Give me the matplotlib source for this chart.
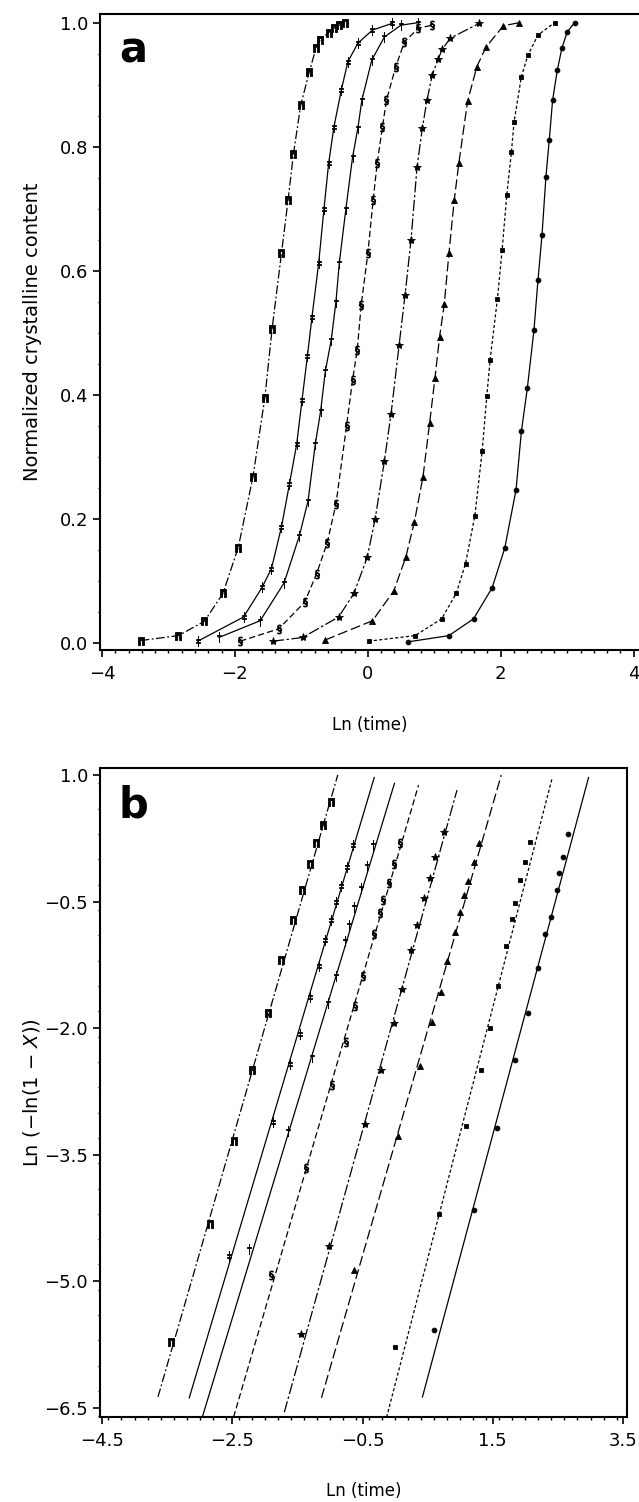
import numpy as np
import matplotlib
matplotlib.use('Agg')
import matplotlib.pyplot as plt
from matplotlib.ticker import MultipleLocator, FixedLocator

plt.rcParams['font.family'] = ['DejaVu Sans']
plt.rcParams['mathtext.fontset'] = 'dejavusans'

# Panel a: normalized crystalline content vs Ln(time), one list pair per series
a_x1 = [-3.42, -2.85, -2.46, -2.18, -1.95, -1.73, -1.55, -1.44, -1.30, -1.20,
        -1.12, -1.01, -0.88, -0.78, -0.72, -0.59, -0.51, -0.43, -0.35]
a_y1 = [0.004, 0.012, 0.035, 0.080, 0.154, 0.267, 0.395, 0.507, 0.628, 0.714,
        0.788, 0.867, 0.921, 0.959, 0.972, 0.984, 0.991, 0.996, 0.999]
a_x2 = [-2.56, -1.87, -1.59, -1.45, -1.30, -1.18, -1.07, -0.99, -0.91, -0.84,
        -0.74, -0.66, -0.59, -0.51, -0.40, -0.30, -0.15, 0.07, 0.37]
a_y2 = [0.003, 0.042, 0.090, 0.120, 0.187, 0.256, 0.321, 0.392, 0.462, 0.526,
        0.612, 0.700, 0.773, 0.832, 0.891, 0.937, 0.967, 0.988, 0.999]
a_x3 = [-2.24, -1.62, -1.26, -1.03, -0.90, -0.79, -0.71, -0.64, -0.55, -0.48,
        -0.43, -0.33, -0.23, -0.15, -0.09, 0.06, 0.25, 0.50, 0.76]
a_y3 = [0.009, 0.036, 0.097, 0.173, 0.229, 0.321, 0.374, 0.438, 0.489, 0.550,
        0.612, 0.700, 0.783, 0.830, 0.875, 0.940, 0.977, 0.996, 1.0]
a_x4 = [-1.92, -1.34, -0.95, -0.77, -0.61, -0.48, -0.32, -0.23, -0.16, -0.10,
        0.00, 0.08, 0.14, 0.22, 0.28, 0.42, 0.55, 0.76, 0.97]
a_y4 = [0.003, 0.023, 0.066, 0.112, 0.162, 0.224, 0.350, 0.424, 0.472, 0.545,
        0.628, 0.714, 0.773, 0.832, 0.875, 0.929, 0.969, 0.991, 0.996]
a_x5 = [-1.43, -0.98, -0.44, -0.21, -0.01, 0.11, 0.25, 0.35, 0.47, 0.56,
        0.65, 0.74, 0.82, 0.89, 0.97, 1.06, 1.12, 1.24, 1.68]
a_y5 = [0.003, 0.009, 0.042, 0.080, 0.138, 0.200, 0.294, 0.370, 0.480, 0.561,
        0.650, 0.767, 0.830, 0.875, 0.916, 0.942, 0.957, 0.975, 0.999]
a_x6 = [-0.64, 0.07, 0.39, 0.57, 0.70, 0.83, 0.93, 1.01, 1.08, 1.15,
        1.22, 1.30, 1.37, 1.50, 1.64, 1.78, 2.04, 2.28]
a_y6 = [0.005, 0.036, 0.084, 0.138, 0.195, 0.268, 0.355, 0.427, 0.494, 0.546,
        0.628, 0.714, 0.774, 0.873, 0.929, 0.961, 0.995, 1.0]
a_x7 = [0.01, 0.71, 1.11, 1.33, 1.47, 1.61, 1.72, 1.79, 1.84, 1.95,
        2.02, 2.09, 2.16, 2.20, 2.31, 2.41, 2.56, 2.81]
a_y7 = [0.003, 0.012, 0.039, 0.080, 0.128, 0.205, 0.309, 0.398, 0.457, 0.555,
        0.633, 0.722, 0.791, 0.840, 0.913, 0.948, 0.980, 1.0]
a_x8 = [0.61, 1.22, 1.59, 1.87, 2.06, 2.23, 2.31, 2.40, 2.50, 2.56,
        2.62, 2.68, 2.73, 2.78, 2.85, 2.92, 3.00, 3.11]
a_y8 = [0.002, 0.012, 0.039, 0.089, 0.153, 0.247, 0.341, 0.411, 0.505, 0.585,
        0.657, 0.752, 0.811, 0.875, 0.923, 0.959, 0.985, 1.0]

# Panel b: Ln(-ln(1-X)) vs Ln(time) data points
b_x1 = [-0.99, -1.11, -1.21, -1.31, -1.43, -1.57, -1.75, -1.95, -2.19, -2.48, -2.84, -3.44]
b_y1 = [0.68, 0.41, 0.19, -0.05, -0.36, -0.72, -1.19, -1.82, -2.49, -3.34, -4.32, -5.72]
b_x2 = [-0.65, -0.74, -0.83, -0.91, -0.98, -1.07, -1.17, -1.30, -1.46, -1.61, -1.87, -2.55]
b_y2 = [0.17, -0.09, -0.32, -0.50, -0.72, -0.95, -1.26, -1.63, -2.07, -2.43, -3.11, -4.70]
b_x3 = [-0.34, -0.43, -0.52, -0.63, -0.71, -0.77, -0.91, -1.03, -1.27, -1.64, -2.24]
b_y3 = [0.17, -0.08, -0.34, -0.56, -0.78, -0.97, -1.38, -1.70, -2.34, -3.22, -4.62]
b_x4 = [0.08, -0.01, -0.09, -0.18, -0.23, -0.32, -0.49, -0.61, -0.75, -0.97, -1.36, -1.90]
b_y4 = [0.19, -0.05, -0.28, -0.48, -0.63, -0.88, -1.38, -1.74, -2.16, -2.67, -3.66, -4.92]
b_x5 = [0.75, 0.61, 0.53, 0.44, 0.33, 0.25, 0.10, -0.02, -0.21, -0.46, -1.01, -1.45]
b_y5 = [0.33, 0.03, -0.22, -0.46, -0.78, -1.07, -1.53, -1.94, -2.49, -3.14, -4.58, -5.62]
b_x6 = [1.29, 1.21, 1.12, 1.06, 0.99, 0.92, 0.80, 0.70, 0.56, 0.38, 0.05, -0.63]
b_y6 = [0.19, -0.03, -0.26, -0.42, -0.62, -0.86, -1.20, -1.57, -1.93, -2.45, -3.28, -4.86]
b_x7 = [2.07, 2.00, 1.91, 1.84, 1.79, 1.71, 1.58, 1.45, 1.32, 1.09, 0.68, 0.00]
b_y7 = [0.21, -0.03, -0.24, -0.52, -0.71, -1.03, -1.50, -2.00, -2.49, -3.16, -4.20, -5.78]
b_x8 = [2.66, 2.58, 2.52, 2.48, 2.39, 2.30, 2.19, 2.04, 1.84, 1.56, 1.21, 0.60]
b_y8 = [0.30, 0.03, -0.16, -0.36, -0.68, -0.89, -1.29, -1.82, -2.38, -3.18, -4.15, -5.58]

# Panel b fitted lines: Ln(time) and Ln(-ln(1-X)) at the two ends
fit_x = [[-3.64, -0.88], [-3.16, -0.32], [-2.96, -0.01], [-2.48, 0.36],
         [-1.70, 0.95], [-1.13, 1.63], [-0.13, 2.41], [0.42, 2.97]]
fit_y = [[-6.37, 1.00], [-6.38, 0.97], [-6.61, 0.90], [-6.61, 0.88],
         [-6.55, 0.82], [-6.38, 1.00], [-6.61, 0.96], [-6.37, 0.97]]

markers = [r'$\mathbf{\Pi}$', r'$\ddagger$', r'$\dagger$', r'$\S$', '*', '^', 's', 'o']
marker_sizes = [5.5, 6.5, 6.5, 6.5, 6, 4, 3.5, 3.5]
line_styles = [(0, (7, 2, 1.5, 2)), '-', '-', (0, (5, 2.5)),
               (0, (9, 2, 2, 2)), (0, (8, 3)), (0, (2.5, 1.8)), '-']

a_series = [(a_x1, a_y1), (a_x2, a_y2), (a_x3, a_y3), (a_x4, a_y4),
            (a_x5, a_y5), (a_x6, a_y6), (a_x7, a_y7), (a_x8, a_y8)]
b_series = [(b_x1, b_y1), (b_x2, b_y2), (b_x3, b_y3), (b_x4, b_y4),
            (b_x5, b_y5), (b_x6, b_y6), (b_x7, b_y7), (b_x8, b_y8)]


def style_axes(ax):
    for side in ['left', 'bottom', 'top', 'right']:
        ax.spines[side].set_linewidth(1.5)
    ax.tick_params(axis='both', which='major', direction='out', length=5,
                   width=1.2, labelsize=13)
    ax.tick_params(axis='x', which='major', pad=6)
    ax.tick_params(axis='both', which='minor', direction='out', length=2.5,
                   width=1.0)
    ax.tick_params(axis='y', which='minor', length=1.5)


fig = plt.figure(figsize=(6.39, 15.02), dpi=100)

# ---- panel a ----
ax = fig.add_axes([0.1565, 0.5672, 0.8435, 0.4235])
for i, (x, y) in enumerate(a_series):
    ax.plot(x, y, color='black', linestyle=line_styles[i], linewidth=0.9,
            marker=markers[i], markersize=marker_sizes[i], markeredgewidth=0.6)
ax.set_xlim(-4.03, 4.08)
ax.set_ylim(-0.0113, 1.014)
ax.xaxis.set_major_locator(FixedLocator([-4, -2, 0, 2, 4]))
ax.xaxis.set_minor_locator(MultipleLocator(0.2))
ax.yaxis.set_major_locator(FixedLocator([0.0, 0.2, 0.4, 0.6, 0.8, 1.0]))
ax.yaxis.set_minor_locator(MultipleLocator(0.05))
ax.set_yticklabels(['0.0', '0.2', '0.4', '0.6', '0.8', '1.0'])
ax.spines['right'].set_visible(False)
style_axes(ax)
ax.set_xlabel('Ln (time)', fontsize=12)
ax.set_ylabel('Normalized crystalline content', fontsize=14)
ax.xaxis.set_label_coords(0.5, -0.103)
ax.yaxis.set_label_coords(-0.108, 0.5)
ax.text(0.035, 0.975, 'a', transform=ax.transAxes, fontsize=30,
        fontweight='bold', va='top', ha='left')

# ---- panel b ----
bx = fig.add_axes([0.1565, 0.0566, 0.8247, 0.4321])
for i, (x, y) in enumerate(b_series):
    bx.plot(fit_x[i], fit_y[i], color='black', linestyle=line_styles[i],
            linewidth=0.9)
    bx.plot(x, y, color='black', linestyle='none', marker=markers[i],
            markersize=marker_sizes[i], markeredgewidth=0.6)
bx.set_xlim(-4.53, 3.56)
bx.set_ylim(-6.607, 1.083)
bx.xaxis.set_major_locator(FixedLocator([-4.5, -2.5, -0.5, 1.5, 3.5]))
bx.xaxis.set_minor_locator(MultipleLocator(0.2))
bx.yaxis.set_major_locator(FixedLocator([-6.5, -5.0, -3.5, -2.0, -0.5, 1.0]))
bx.yaxis.set_minor_locator(MultipleLocator(0.3))
style_axes(bx)
bx.set_xlabel('Ln (time)', fontsize=12)
bx.set_ylabel(r'Ln ($-$ln(1 $-$ $\it{X}$))', fontsize=14)
bx.xaxis.set_label_coords(0.5, -0.1)
bx.yaxis.set_label_coords(-0.11, 0.5)
bx.text(0.035, 0.975, 'b', transform=bx.transAxes, fontsize=30,
        fontweight='bold', va='top', ha='left')

fig.savefig('out.png', dpi=100)
